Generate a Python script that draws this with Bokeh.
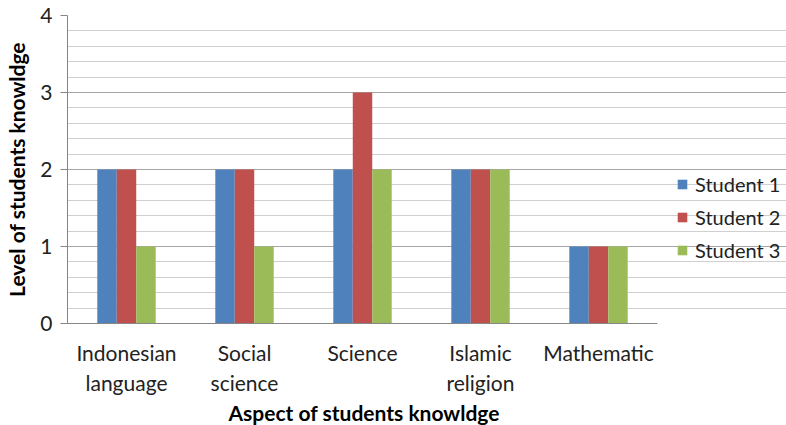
from bokeh.plotting import figure
from bokeh.models import (Range1d, ColumnDataSource, Legend, LegendItem, Title,
                          SingleIntervalTicker, FixedTicker)
from bokeh.transform import dodge
from bokeh.embed import file_html
from bokeh.resources import INLINE

# Knowledge level per subject for each student
subjects = ["Indonesian\nlanguage", "Social\nscience", "Science", "Islamic\nreligion", "Mathematic"]
student_1 = [2, 2, 2, 2, 1]
student_2 = [2, 2, 3, 2, 1]
student_3 = [1, 1, 2, 2, 1]
series_names = ["Student 1", "Student 2", "Student 3"]
colors = ["#4F81BD", "#C0504D", "#9BBB59"]

FONT = "Lato"

n = len(subjects)
centers = [i + 0.5 for i in range(n)]
source = ColumnDataSource(dict(x=centers, s1=student_1, s2=student_2, s3=student_3))

# the frame runs to the right edge; the category area spans 0..n, the legend sits to its right
p = figure(x_range=Range1d(0, 6.093), y_range=Range1d(0, 4),
           width=786, height=425, output_backend="svg", toolbar_location=None,
           min_border_left=67, min_border_right=0, min_border_top=15, min_border_bottom=102)
p.outline_line_color = None
p.background_fill_color = "white"
p.border_fill_color = "white"

bar_w = 0.165
renderers = []
for key, off, col in zip(["s1", "s2", "s3"], [-bar_w, 0, bar_w], colors):
    r = p.vbar(x=dodge("x", off), top=key, width=bar_w, source=source,
               fill_color=col, line_color=None)
    renderers.append(r)

# y axis
p.yaxis.ticker = SingleIntervalTicker(interval=1, num_minor_ticks=5)
p.yaxis.axis_line_color = "#868686"
p.yaxis.major_tick_line_color = "#868686"
p.yaxis.major_tick_out = 7
p.yaxis.major_tick_in = 0
p.yaxis.minor_tick_line_color = None
p.yaxis.major_label_text_font = FONT
p.yaxis.major_label_text_font_size = "21px"
p.yaxis.major_label_text_color = "#222222"
p.yaxis.major_label_standoff = 8
p.yaxis.axis_label = "Level of students knowldge"
p.yaxis.axis_label_text_font = FONT
p.yaxis.axis_label_text_font_size = "21px"
p.yaxis.axis_label_text_font_style = "bold"
p.yaxis.axis_label_text_color = "#000000"
p.yaxis.axis_label_standoff = 8

# x axis
p.xaxis.bounds = (0, n)
p.xaxis.ticker = FixedTicker(ticks=centers)
p.xaxis.major_label_overrides = {c: s for c, s in zip(centers, subjects)}
p.xaxis.axis_line_color = "#868686"
p.xaxis.major_tick_line_color = None
p.xaxis.minor_tick_line_color = None
p.xaxis.major_label_text_font = FONT
p.xaxis.major_label_text_font_size = "21px"
p.xaxis.major_label_text_color = "#222222"
p.xaxis.major_label_standoff = 10

# x title, centred under the category area
p.add_layout(Title(text="Aspect of students knowldge", align="left", offset=161, standoff=1,
                   text_font=FONT, text_font_size="21px", text_font_style="bold",
                   text_color="#000000"), "below")

# grid
p.xgrid.grid_line_color = None
p.ygrid.bounds = (0, n)
p.ygrid.grid_line_color = "#a6a6a6"
p.ygrid.minor_grid_line_color = "#d0d0d0"

legend = Legend(items=[LegendItem(label=s, renderers=[r]) for s, r in zip(series_names, renderers)],
                location=(609, 61), orientation="vertical",
                label_text_font=FONT, label_text_font_size="20px", label_text_color="#222222",
                glyph_width=12, glyph_height=12, spacing=9, label_standoff=7,
                background_fill_alpha=0, border_line_color=None, padding=0, margin=0)
p.add_layout(legend, "center")

open("out.html", "w").write(file_html(p, INLINE))
